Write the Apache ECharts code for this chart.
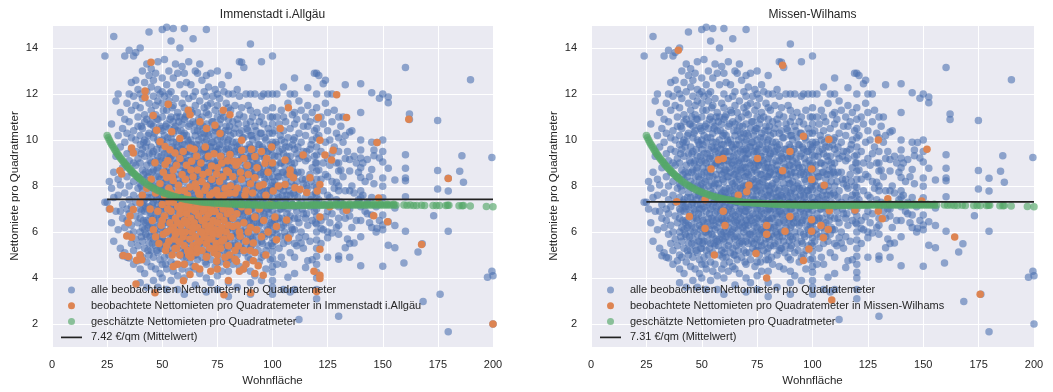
<!DOCTYPE html>
<html>
<head>
<meta charset="utf-8">
<script src="https://cdn.jsdelivr.net/npm/echarts@6/dist/echarts.min.js"></script>
<style>
html,body{margin:0;padding:0;background:#fff;}
#chart{width:1053px;height:392px;}
</style>
</head>
<body>
<div id="chart"></div>
<script>
// ---------- DATA ----------
const panelTitles = ['Immenstadt i.Allgäu', 'Missen-Wilhams'];
const seriesNames = {
  all: 'alle beobachteten Nettomieten pro Quadratemeter',
  local: ['beobachtete Nettomieten pro Quadratemeter in Immenstadt i.Allgäu',
          'beobachtete Nettomieten pro Quadratemeter in Missen-Wilhams'],
  est: 'geschätzte Nettomieten pro Quadratmeter'
};
const meanValues = [7.42, 7.31];
const meanRange = [25, 200];
const xTickLabels = [0, 25, 50, 75, 100, 125, 150, 175, 200];
const yTickLabels = [2, 4, 6, 8, 10, 12, 14];

// all observed rents: each row = [Wohnfläche, rent values...]
const blueRows = [
  [24, 13.65, 7.3], [25, 7.3], [26, 8.2, 7.0], [27, 10.7, 6.4, 7.9],
  [28, 14.5, 7.5, 8.6, 5.6], [29, 11.7, 6.9, 9.3], [30, 12.0, 8.3, 6.1, 10.2, 7.6],
  [31, 11.2, 8.05, 9.7, 6.9, 5.3], [32, 10.5, 4.97, 7.2, 8.8, 6.6],
  [33, 13.65, 9.9, 7.7, 6.2, 10.9, 5.1], [34, 4.9, 11.6, 8.4, 7.0, 9.4, 6.5, 10.3],
  [35, 13.9, 12.0, 10.8, 9.1, 8.0, 7.4, 5.9, 4.87, 6.8],
  [36, 12.5, 11.3, 9.6, 8.6, 7.1, 6.3, 5.5, 10.1],
  [37, 13.65, 11.9, 10.4, 9.0, 8.2, 7.6, 6.0, 5.2, 4.6],
  [38, 13.8, 11.5, 10.0, 8.9, 7.3, 6.7, 5.7, 9.5, 12.6],
  [39, 12.2, 10.6, 9.2, 8.4, 7.9, 6.4, 5.4, 4.75, 11.0],
  [40, 14.0, 12.0, 11.4, 10.2, 9.8, 9.0, 8.1, 7.5, 7.0, 6.6, 6.0, 5.0, 4.4, 3.8],
  [41, 13.0, 11.8, 10.5, 9.6, 8.7, 7.8, 7.2, 6.2, 5.6, 4.9],
  [42, 12.5, 11.1, 10.0, 9.3, 8.3, 7.4, 6.9, 6.1, 5.3, 4.2, 10.8],
  [43, 13.3, 12.1, 10.9, 9.9, 8.9, 8.0, 7.0, 6.5, 5.8, 4.7, 3.6],
  [44, 14.7, 12.8, 11.6, 10.3, 9.4, 8.6, 7.7, 7.1, 6.3, 5.5, 5.0],
  [45, 13.1, 11.3, 10.7, 9.7, 9.0, 8.2, 7.5, 6.8, 6.0, 5.2, 4.5, 12.3],
  [46, 12.6, 11.9, 10.1, 9.5, 8.7, 7.9, 7.3, 6.6, 5.7, 4.9, 3.9, 10.6],
  [47, 12.9, 11.5, 10.4, 9.1, 8.4, 7.6, 6.9, 6.2, 5.4, 4.4, 11.1],
  [48, 13.4, 12.2, 10.9, 10.0, 9.3, 8.8, 8.0, 7.2, 6.5, 5.9, 5.1, 3.6, 11.7],
  [49, 12.0, 10.6, 9.8, 9.0, 8.3, 7.7, 7.0, 6.3, 5.6, 4.8, 4.2],
  [50, 14.8, 12.7, 11.6, 11.0, 10.4, 9.6, 9.1, 8.5, 8.1, 7.8, 7.4, 7.0, 6.7, 6.2, 5.8, 5.3, 4.6, 4.0, 12.1, 10.0],
  [51, 13.5, 11.9, 10.2, 9.4, 8.6, 7.9, 7.1, 6.4, 5.6, 4.9],
  [52, 14.9, 12.4, 11.3, 10.7, 9.9, 9.0, 8.3, 7.6, 6.9, 6.0, 5.2, 4.4, 3.5],
  [53, 13.0, 11.7, 10.5, 9.6, 8.8, 8.0, 7.3, 6.6, 5.9, 5.0, 12.0],
  [54, 14.3, 12.1, 11.0, 10.1, 9.3, 8.6, 7.8, 7.0, 6.3, 5.5, 4.7, 3.9],
  [55, 14.85, 12.7, 11.5, 10.8, 9.9, 9.2, 8.4, 7.7, 7.1, 6.5, 5.8, 5.1, 4.3, 10.3],
  [56, 13.3, 11.8, 10.6, 9.5, 8.9, 8.1, 7.4, 6.8, 6.1, 5.4, 4.6],
  [57, 12.9, 11.2, 10.4, 9.7, 9.0, 8.3, 7.6, 6.9, 6.2, 5.6, 4.1, 3.5],
  [58, 14.0, 12.4, 11.0, 10.0, 9.3, 8.7, 7.9, 7.2, 6.4, 5.7, 5.0],
  [59, 13.2, 11.6, 10.7, 9.8, 9.1, 8.5, 7.7, 7.0, 6.6, 5.9, 5.2, 4.4],
  [60, 14.85, 12.9, 12.0, 11.4, 10.9, 10.3, 9.8, 9.4, 9.0, 8.6, 8.2, 7.8, 7.5, 7.1, 6.8, 6.4, 6.0, 5.6, 5.1, 4.6, 4.0, 3.3],
  [61, 12.5, 11.1, 10.2, 9.5, 8.7, 7.9, 7.3, 6.5, 5.8, 4.9],
  [62, 13.4, 11.8, 10.6, 9.9, 9.1, 8.4, 7.6, 7.0, 6.2, 5.4, 4.3],
  [63, 12.4, 11.3, 10.0, 9.3, 8.6, 7.8, 7.2, 6.6, 5.9, 5.1],
  [64, 14.4, 11.9, 10.8, 9.7, 8.9, 8.1, 7.4, 6.8, 6.1, 5.3, 4.5],
  [65, 13.0, 12.1, 11.5, 10.7, 10.2, 9.6, 9.1, 8.5, 8.0, 7.6, 7.1, 6.7, 6.2, 5.7, 5.0, 4.4, 3.7],
  [66, 12.9, 11.2, 10.4, 9.4, 8.7, 7.9, 7.3, 6.5, 5.8, 4.8],
  [67, 13.3, 11.7, 10.6, 9.8, 9.0, 8.3, 7.5, 6.9, 6.3, 5.5, 4.2],
  [68, 12.6, 11.0, 10.1, 9.2, 8.6, 7.8, 7.0, 6.4, 5.6, 4.9],
  [69, 12.1, 11.4, 10.3, 9.5, 8.8, 8.0, 7.3, 6.7, 6.0, 5.2],
  [70, 14.8, 12.8, 11.9, 11.2, 10.7, 10.0, 9.6, 9.2, 8.8, 8.4, 8.0, 7.6, 7.2, 6.9, 6.5, 6.1, 5.6, 5.1, 4.6, 4.0, 3.4],
  [71, 12.3, 11.1, 10.2, 9.4, 8.5, 7.7, 7.0, 6.3, 5.5],
  [72, 12.9, 11.6, 10.5, 9.7, 8.9, 8.2, 7.4, 6.6, 5.9, 4.8, 3.8],
  [73, 11.9, 10.8, 9.9, 9.1, 8.3, 7.6, 6.8, 6.0, 5.3],
  [74, 12.2, 11.3, 10.4, 9.5, 8.7, 7.9, 7.1, 6.4, 5.7, 4.5],
  [75, 13.0, 12.0, 11.5, 11.0, 10.5, 10.0, 9.5, 9.1, 8.6, 8.2, 7.8, 7.4, 7.0, 6.6, 6.2, 5.7, 5.2, 4.7, 4.1, 3.5],
  [76, 11.8, 10.7, 9.8, 8.9, 8.1, 7.3, 6.7, 5.9, 5.0],
  [77, 12.4, 11.2, 10.3, 9.3, 8.5, 7.7, 6.9, 6.1, 5.4, 4.3],
  [78, 12.1, 11.0, 10.1, 9.0, 8.3, 7.5, 6.8, 6.0, 5.2],
  [79, 11.6, 10.6, 9.6, 8.8, 8.0, 7.2, 6.5, 5.7, 4.8],
  [80, 12.8, 12.0, 11.4, 10.9, 10.4, 10.0, 9.6, 9.2, 8.8, 8.4, 8.0, 7.6, 7.3, 7.0, 6.6, 6.2, 5.8, 5.3, 4.8, 4.3, 3.8, 3.2],
  [81, 11.3, 10.2, 9.4, 8.6, 7.7, 6.9, 6.2, 5.4],
  [82, 12.0, 10.8, 9.9, 9.0, 8.1, 7.4, 6.6, 5.8, 4.6],
  [83, 11.5, 10.5, 9.5, 8.7, 7.9, 7.1, 6.3, 5.5],
  [84, 12.2, 10.9, 9.7, 8.9, 8.2, 7.5, 6.7, 5.9, 5.0, 3.6],
  [85, 13.4, 11.9, 11.1, 10.3, 9.8, 9.1, 8.5, 7.9, 7.4, 6.9, 6.4, 5.8, 5.2, 4.5],
  [86, 13.38, 11.4, 10.4, 9.3, 8.4, 7.6, 6.8, 6.0, 5.3],
  [87, 13.15, 11.0, 10.1, 9.0, 8.1, 7.3, 6.5, 5.6, 4.4],
  [88, 12.0, 10.7, 9.6, 8.7, 7.8, 7.0, 6.2, 5.4],
  [89, 11.5, 10.4, 9.2, 8.3, 7.5, 6.7, 5.9, 4.9],
  [90, 14.17, 12.0, 11.3, 10.8, 10.2, 9.7, 9.3, 8.9, 8.5, 8.1, 7.7, 7.3, 7.0, 6.6, 6.2, 5.8, 5.3, 4.8, 4.3, 3.8, 3.3],
  [91, 11.0, 10.0, 9.1, 8.2, 7.4, 6.6, 5.7],
  [92, 12.0, 10.6, 9.5, 8.6, 7.7, 6.9, 6.0, 5.1, 4.1],
  [93, 11.2, 10.1, 9.0, 8.0, 7.2, 6.4, 5.5],
  [94, 10.8, 9.8, 8.8, 7.9, 7.1, 6.3, 4.7],
  [95, 13.4, 11.9, 11.0, 10.3, 9.4, 8.6, 7.8, 7.0, 6.4, 5.6, 4.9, 3.9],
  [96, 12.0, 10.7, 9.6, 8.5, 7.6, 6.8, 5.9, 5.0],
  [97, 11.3, 10.0, 9.0, 8.2, 7.3, 6.5, 5.2, 4.4],
  [98, 12.0, 10.5, 9.5, 8.7, 7.8, 7.0, 6.1, 5.4],
  [99, 11.0, 9.8, 8.9, 7.9, 7.1, 6.3, 4.8],
  [100, 13.65, 12.0, 11.4, 11.0, 10.7, 10.3, 9.9, 9.7, 9.35, 9.0, 8.75, 8.4, 8.15, 7.85, 7.5, 7.25, 6.95, 6.6, 6.35, 6.0, 5.75, 5.4, 5.15, 4.85, 4.5, 4.25, 3.9, 3.6, 3.3],
  [101, 10.4, 9.3, 8.2, 7.3, 6.5, 5.6], [102, 12.0, 11.0, 9.8, 8.6, 7.7, 6.8, 5.9, 4.6],
  [103, 10.7, 9.5, 8.4, 7.5, 6.6, 5.3], [104, 11.3, 10.0, 9.0, 8.0, 7.0, 6.2, 4.9],
  [105, 12.3, 11.0, 10.4, 9.4, 8.6, 7.8, 7.1, 6.3, 5.5, 4.6, 3.5],
  [106, 10.8, 9.7, 8.3, 7.4, 6.4, 5.8], [107, 11.6, 10.1, 9.1, 8.0, 7.0, 5.6, 4.04],
  [108, 12.0, 10.5, 9.3, 8.5, 7.6, 6.7, 5.9, 5.1, 3.4], [109, 11.1, 9.8, 8.8, 7.2, 6.1],
  [110, 12.7, 12.0, 11.2, 10.7, 10.1, 9.6, 9.0, 8.5, 8.0, 7.6, 7.1, 6.6, 6.1, 5.5, 4.9, 4.2, 3.5],
  [111, 10.9, 9.4, 8.2, 6.9, 5.4], [112, 11.7, 10.3, 9.2, 7.8, 6.4, 5.75, 2.2],
  [113, 11.3, 9.9, 8.6, 7.3, 6.0, 5.53], [114, 10.6, 9.5, 8.1, 6.8, 5.3],
  [115, 11.0, 10.2, 9.1, 8.3, 7.5, 6.6, 5.8, 4.46], [116, 12.27, 11.5, 10.6, 9.2, 7.9, 6.3, 4.75],
  [117, 10.8, 9.6, 8.5, 7.1, 5.6], [118, 11.2, 10.0, 8.8, 7.6, 6.5, 4.8], [119, 12.9, 10.4, 9.3, 8.0, 6.9],
  [120, 12.9, 12.0, 11.4, 10.9, 10.5, 10.1, 9.7, 9.35, 9.0, 8.65, 8.3, 7.95, 7.6, 7.3, 7.0, 6.7, 6.35, 6.0, 5.65, 5.3, 4.95, 4.6, 4.25, 4.0, 3.5, 3.1],
  [121, 12.8, 10.2, 8.7, 7.4], [122, 11.0, 9.5, 8.3, 6.5, 6.17, 5.5], [123, 12.45, 10.7, 9.0, 7.8, 6.1],
  [124, 12.6, 11.6, 9.9, 8.5, 7.2, 6.67],
  [125, 12.0, 11.2, 10.4, 9.2, 8.4, 7.6, 6.9, 6.0, 5.75, 4.9], [126, 10.0, 8.9, 7.5, 6.4],
  [127, 12.0, 10.8, 9.4, 8.2, 6.8, 5.96], [128, 11.3, 9.7, 7.9], [129, 10.3, 9.0, 8.16, 7.4, 6.2],
  [130, 11.0, 10.1, 9.5, 9.0, 8.65, 8.0, 7.8, 7.1, 6.6, 6.3, 5.9, 4.96, 4.82, 2.34],
  [131, 10.6, 8.7, 7.3], [132, 11.0, 9.9, 8.4, 6.9], [133, 12.4, 10.2, 9.2, 7.8, 6.6, 5.32],
  [134, 9.5, 7.0, 5.7], [135, 10.35, 9.15, 8.65, 7.8, 7.0, 6.7, 5.5, 4.9], [136, 10.4, 8.0, 6.2],
  [137, 9.3, 7.7, 5.53], [138, 9.0, 7.2, 6.5], [139, 8.6, 7.4],
  [140, 12.45, 11.2, 10.0, 9.57, 9.22, 8.8, 8.37, 7.8, 7.5, 7.1, 6.5, 5.8, 4.54],
  [141, 9.0, 7.6], [142, 8.2, 6.9], [143, 9.15, 7.3, 6.8], [144, 8.4, 6.4],
  [145, 12.05, 9.9, 8.72, 7.5, 6.74, 6.2], [146, 9.57, 9.32, 8.1], [147, 7.1, 6.0],
  [147.4, 9.89, 6.17], [148.5, 11.82, 9.22, 6.5],
  [150, 12.0, 10.0, 9.5, 9.04, 8.35, 7.99, 7.49, 6.74, 6.31, 6.1, 4.51],
  [152.5, 11.87, 11.62, 8.77, 6.45, 5.43], [155.5, 8.26, 7.05, 6.28, 5.32], [159.6, 4.65],
  [160.3, 13.15, 9.36, 8.77, 8.35, 8.23, 7.53, 6.03], [162.1, 11.13, 10.89],
  [166, 5.13], [167.9, 5.49], [168.3, 2.98], [173.1, 6.71], [174.9, 10.85, 8.68, 7.87],
  [176, 3.3], [179.7, 8.34, 7.79, 6.03, 1.67], [184.9, 8.64], [185.9, 9.32], [186.6, 8.16],
  [189.8, 12.62], [197.5, 4.04], [199.5, 9.24, 4.3], [200, 4.1, 2.0]
];

// more observed rents in the dense core (areas with half square metres)
const blueCoreRows = [
  [40.5, 9.4, 8.0, 6.9, 5.8, 10.6], [41.5, 8.5, 7.3, 6.5, 9.9], [42.5, 9.7, 8.6, 7.1, 5.9, 6.4],
  [43.5, 10.2, 8.4, 7.5, 6.2, 5.2], [44.5, 9.1, 8.0, 6.7, 5.8, 10.7], [45.5, 9.4, 8.6, 7.2, 6.3, 5.5, 11.0],
  [46.5, 10.3, 9.0, 8.1, 7.0, 6.0], [47.5, 9.6, 8.7, 7.4, 6.6, 5.2, 10.9], [48.5, 9.9, 8.4, 7.6, 6.8, 5.6],
  [49.5, 10.5, 9.3, 8.0, 7.2, 6.1, 5.3], [50.5, 9.8, 8.8, 7.5, 6.5, 5.5, 11.3], [51.5, 10.6, 9.1, 8.2, 7.4, 6.0, 4.6],
  [52.5, 9.4, 8.6, 7.2, 6.4, 5.6, 10.1], [53.5, 10.9, 9.2, 8.4, 7.6, 6.8, 6.1, 5.3], [54.5, 9.7, 8.9, 8.1, 6.6, 5.9, 11.4],
  [55.5, 10.5, 9.6, 8.0, 7.3, 6.3, 5.5], [56.5, 9.9, 9.0, 8.5, 7.1, 6.5, 5.7, 11.0], [57.5, 10.8, 9.4, 8.1, 7.4, 6.6, 5.4],
  [58.5, 9.6, 8.9, 7.6, 6.9, 6.0, 10.4], [59.5, 10.2, 9.3, 8.3, 7.3, 6.5, 5.7, 4.9], [60.5, 11.0, 9.5, 8.7, 7.7, 6.9, 6.2, 5.3],
  [61.5, 10.0, 9.1, 8.4, 7.5, 6.7, 5.9], [62.5, 10.7, 9.5, 8.8, 7.9, 7.1, 6.4, 5.6, 4.7], [63.5, 9.8, 9.0, 8.2, 7.4, 6.9, 6.0, 11.2],
  [64.5, 10.4, 9.3, 8.5, 7.7, 6.5, 5.8, 5.0], [65.5, 9.8, 8.8, 8.2, 7.3, 6.4, 5.4], [66.5, 10.9, 10.0, 9.1, 8.4, 7.6, 6.8, 6.1, 5.2],
  [67.5, 9.5, 8.7, 7.9, 7.1, 6.6, 5.8, 10.3], [68.5, 10.6, 9.6, 8.9, 8.1, 7.4, 6.2, 5.5], [69.5, 9.9, 9.2, 8.4, 7.7, 6.9, 6.3, 4.7],
  [70.5, 10.3, 9.4, 8.6, 7.8, 7.1, 6.4, 5.8, 11.5], [71.5, 9.7, 9.0, 8.1, 7.3, 6.7, 5.9, 5.1], [72.5, 10.8, 9.9, 8.6, 8.0, 7.2, 6.5, 5.6],
  [73.5, 9.4, 8.8, 7.9, 7.4, 6.3, 5.5, 10.2], [74.5, 10.5, 9.7, 9.0, 8.3, 7.6, 6.8, 6.0, 5.2], [75.5, 9.6, 8.9, 8.0, 7.2, 6.5, 5.4],
  [76.5, 10.9, 10.1, 9.3, 8.5, 7.8, 7.0, 6.2, 5.6, 4.7], [77.5, 9.8, 9.1, 8.2, 7.4, 6.6, 5.9], [78.5, 10.4, 9.5, 8.7, 7.9, 7.2, 6.4, 5.5],
  [79.5, 9.9, 9.0, 8.4, 7.6, 6.9, 6.1, 5.1], [80.5, 10.6, 9.3, 8.5, 7.8, 7.0, 6.5, 5.7], [81.5, 9.7, 8.8, 8.0, 7.3, 6.6, 5.9, 4.9],
  [82.5, 10.3, 9.4, 8.5, 7.7, 7.0, 6.2, 5.4], [83.5, 9.9, 9.1, 8.3, 7.5, 6.8, 6.0], [84.5, 10.7, 9.6, 8.7, 7.8, 7.1, 6.4, 5.6],
  [85.5, 9.4, 8.6, 7.6, 6.9, 6.1, 5.3], [86.5, 10.1, 9.2, 8.4, 7.5, 6.7, 5.8], [87.5, 9.6, 8.8, 7.9, 7.2, 6.4, 5.1],
  [88.5, 10.5, 9.3, 8.5, 7.6, 6.9, 6.0], [89.5, 9.8, 8.9, 8.1, 7.3, 6.5, 5.6], [90.5, 10.2, 9.4, 8.6, 7.8, 7.0, 6.3, 5.4],
  [91.5, 9.6, 8.8, 7.9, 7.2, 6.4], [92.5, 10.4, 9.2, 8.4, 7.5, 6.7, 5.8], [93.5, 9.8, 8.9, 8.1, 7.4, 6.6, 5.2],
  [94.5, 10.3, 9.3, 8.5, 7.6, 6.9, 6.0], [95.5, 9.7, 8.8, 7.9, 7.3, 6.5, 5.5], [96.5, 10.1, 9.2, 8.3, 7.5, 6.7, 5.8],
  [97.5, 9.5, 8.6, 7.8, 7.0, 6.2], [98.5, 10.3, 9.1, 8.4, 7.6, 6.8, 5.9], [99.5, 9.6, 8.7, 8.0, 7.3, 6.4, 5.5],
  [101.5, 9.9, 8.9, 8.0, 7.2, 6.1], [102.5, 9.3, 8.4, 7.4, 6.5], [103.5, 10.2, 9.0, 7.9, 7.0, 5.8],
  [104.5, 9.6, 8.6, 7.6, 6.6], [105.5, 9.9, 8.9, 8.0, 7.3, 6.0], [106.5, 9.3, 8.5, 7.6, 6.8],
  [107.5, 9.7, 8.7, 7.8, 6.5], [108.5, 9.0, 8.2, 7.3, 6.2], [109.5, 10.0, 8.6, 7.7],
  [111.5, 9.7, 8.6, 7.5, 6.6], [113.5, 9.3, 8.3, 7.0], [115.5, 9.5, 8.0, 6.8], [117.5, 9.8, 8.2, 7.4], [119.5, 9.0, 7.7, 6.4]
];

// observed rents in Immenstadt i.Allgäu
const orangeLeft = [
  [44.5,7.0],[45.5,6.5],[46,6.1],[47,5.8],[48,6.9],[48.5,5.5],[49.5,6.3],[50,7.2],[50.5,5.9],[51,6.7],
  [51.5,5.2],[52,6.0],[52.5,7.0],[53,5.6],[53.5,6.4],[54,6.9],[54.5,5.0],[55,6.2],[55,7.3],[55.5,5.7],
  [56,6.6],[56.5,5.3],[57,7.1],[57,6.0],[57.5,5.6],[58,6.8],[58,5.0],[58.5,6.3],[59,7.2],[59.5,5.8],
  [60,6.5],[60,5.4],[60,7.0],[60.5,6.0],[61,6.8],[61.5,5.2],[62,6.3],[62,7.2],[62.5,5.7],[63,6.6],
  [63,4.9],[63.5,6.0],[64,7.0],[64,5.4],[64.5,6.4],[65,5.8],[65,6.9],[65,7.3],[65.5,5.1],[66,6.2],
  [66.5,6.7],[67,5.6],[67,7.1],[67.5,6.0],[68,6.5],[68,5.2],[68.5,6.9],[69,5.8],[69.5,6.3],[70,7.2],
  [70,6.6],[70,5.5],[70,4.9],[70.5,6.0],[71,6.8],[71.5,5.3],[72,6.3],[72,7.0],[72.5,5.7],[73,6.5],
  [73.5,5.1],[74,6.1],[74,6.9],[74.5,5.5],[75,6.4],[75,7.2],[75,5.0],[75.5,5.9],[76,6.7],[76.5,5.3],
  [77,6.2],[77.5,7.0],[78,5.7],[78,6.5],[78.5,4.9],[79,6.0],[79.5,6.8],[80,5.4],[80,6.3],[80,7.1],
  [80.5,5.0],[81,5.8],[82,6.6],[82,6.24],[83,5.2],[83,4.82],[83.8,6.8],[84.5,5.39],[85,6.0],[85.3,5.82],
  [86,7.1],[86.8,4.4],[87,6.4],[88,5.6],[89,6.9],[90,5.2],[90,6.2],[91.3,5.53],[91.3,4.75],[92,6.66],
  [92,5.11],[92.8,6.1],[93.5,4.54],[94,7.0],[95,5.8],[95.8,4.12],[96,6.5],[97,5.0],[98,6.0],[99,7.2],
  [101.1,6.66],[101.8,6.24],[101.8,5.67],[106.4,6.52],[107.2,5.74],
  [50,6.5],[52,5.4],[53,7.3],[54,6.1],[56,5.9],[57,6.4],[58,7.0],[59,6.0],[61,6.4],[62,5.0],
  [63,7.0],[64,6.2],[66,5.5],[66,7.2],[68,6.0],[69,7.0],[71,6.1],[71,5.7],[73,6.9],[73,5.9],
  [74,5.3],[76,6.0],[77,5.6],[79,7.2],[81,6.9],[84,6.3],[87,5.2],[89,6.0],
  [38.4,4.77],[32.3,4.98],[34.6,4.94],[39.9,5.0],[40.7,4.8],[36.1,5.78],[35.4,6.7],[34.6,6.41],[36.9,6.98],[39.9,7.27],
  [55.8,5.29],[58,5.57],[62.6,5.15],[65.6,5.29],[70.1,4.94],[74.7,4.73],[79.2,4.59],[83.7,4.73],[62.6,4.16],[59.6,3.88],
  [46.7,3.36],[78,3.28],[90.1,3.36],[38.1,3.74],[57,4.6],[67,4.4],[72,4.3],[88,4.6],[92,4.2],[26.3,7.0],[33.9,5.83],
  [41,7.6],[43,7.9],[45,8.3],[47,7.7],[49,8.1],[51,7.6],[51.3,8.94],[46.7,9.01],[52,8.38],[53,7.9],
  [55,8.24],[55,8.7],[56,7.6],[57.3,8.03],[58,9.2],[59,8.5],[60,7.8],[61,8.9],[62.6,7.96],[62.6,9.65],
  [63.3,9.08],[64,8.4],[65.6,7.89],[65.6,9.3],[66,8.7],[67,7.6],[68,8.2],[69.4,7.82],[70.9,9.3],[71,8.6],
  [72.4,8.87],[73,7.7],[74.7,8.52],[74.7,7.82],[76,8.2],[77,9.0],[78,7.6],[79.2,8.66],[80.7,9.37],[82.2,9.08],
  [81,8.0],[83,7.7],[84.5,9.06],[86,9.56],[86,9.99],[86,8.3],[88,7.8],[89,8.5],[92,9.28],[92,8.36],
  [95.8,8.07],[96.6,8.99],[97.3,9.2],[99.6,9.7],[100.3,7.79],[102.7,8.0],[105.7,8.07],[105.7,9.13],[108,8.7],[108,8.5],
  [109.5,8.36],[110.2,7.93],[112.5,7.86],[115.5,7.72],[113.9,9.35],[117,8.36],[121.5,8.07],[120.3,7.79],[123.8,9.35],[126.8,9.13],
  [127.5,9.56],[121.5,9.99],[49,9.93],[51.3,9.72],[53.5,9.58],[55.8,9.44],[36.1,9.65],[36.9,9.44],[30.8,8.66],[31.6,8.52],
  [58,10.07],[103.5,10.5],[126,7.1],[133.6,6.95],[121.5,6.66],[121.5,5.25],[121.5,4.12],[121.5,3.98],[120,3.42],[118.8,4.3],
  [44.9,13.38],[42.2,12.13],[42.2,11.85],[52.7,11.56],[45.9,11.07],[61.8,11.3],[62.6,11.1],[67.1,10.79],[70.1,10.5],[47.5,10.43],
  [54.3,10.36],[73.9,10.64],[76.2,10.28],[80.7,11.1],[77.7,11.3],[107.2,11.4],[120.8,10.98],[133.6,10.98],[129.1,11.97],[161.8,10.9],
  [147.4,9.89],[179.7,8.33],[148.1,7.48],[145.9,6.71],[152.2,6.45],[167.6,5.46],[200,2.0],
  [50.5,8.6],[52.5,9.1],[54,7.7],[54.5,8.4],[56.5,8.9],[57.5,7.8],[59.5,9.5],[60.5,8.3],[61.5,7.6],[63,8.7],
  [64.5,9.6],[65,8.1],[66.5,7.7],[67.5,9.0],[68.5,8.5],[69.5,9.7],[70,8.0],[71.5,7.6],[72.5,8.3],[73.5,9.4],
  [75,8.8],[75.5,7.6],[76.5,9.3],[77.5,8.4],[78.5,7.9],[79.5,9.1],[80,8.6],[80.5,7.7],[82,8.4],[83.5,8.9],
  [84,7.9],[85.5,8.6],[87,9.2],[87.5,7.6],[88.5,8.9],[90,8.1],[90.5,9.6],[91,7.7],[93,8.8],[94,8.0],
  [95,9.5],[97,7.6],[98,8.6],[100,9.0],[60,4.6],[65,4.5],[75,4.4],[80,3.9],[85,4.3],[55,4.5]
];

// observed rents in Missen-Wilhams
const orangeRight = [
  [39.4,13.9],[86.5,13.25],[95.9,10.16],[107.4,10.02],[129.7,10.0],[151.7,9.6],[89.8,9.5],[57.5,9.14],
  [59.7,9.2],[75.2,9.2],[54.2,8.74],[86.5,8.67],[99.6,8.74],[99.6,8.28],[105.3,8.03],[71.3,8.03],
  [70.3,7.75],[66.5,7.6],[38.7,7.32],[51.5,7.4],[44.4,6.68],[59.7,6.9],[51.5,6.15],[60.5,6.28],
  [89.8,6.68],[99.6,6.54],[103.8,6.28],[107.1,6.11],[79.3,6.28],[79.3,5.9],[87.6,6.04],[99.6,6.04],
  [104.9,5.75],[107.6,6.93],[119.2,6.96],[129.7,6.9],[131.5,6.58],[134,7.45],[149.3,7.35],[164.2,5.79],
  [175.7,3.3],[98.4,5.26],[95.9,4.76],[74.5,5.07],[55.7,5.0],[79.3,4.0],[108.7,3.05]
];

// estimated rents: each row = [Wohnfläche, estimated values...]
const greenRows = [
  [25,10.2],[25.5,10.1],[26,10.0],[26.5,9.9],[27,9.82],[27.5,9.74],[28,9.66],[28.5,9.58],[29,9.5],[29.5,9.43],
  [30,9.36],[30.5,9.29],[31,9.22],[31.5,9.16],[32,9.1],[32.5,9.04],[33,8.98],[33.5,8.92],[34,8.87],[34.5,8.81],
  [35,8.76],[35.5,8.71],[36,8.66],[36.5,8.61],[37,8.56],[37.5,8.51],[38,8.47],[38.5,8.42],[39,8.38],[39.5,8.34],
  [40,8.3],[41,8.22],[42,8.15],[43,8.08],[44,8.02],[45,7.96],[46,7.91],[47,7.86],[48,7.81],[49,7.77],
  [50,7.73],[51,7.69],[52,7.66],[53,7.62],[54,7.59],[55,7.56],[56,7.53],[57,7.5],[58,7.48],[59,7.46],
  [60,7.44],[61,7.42],[62,7.4],[63,7.38],[64,7.37],[65,7.35],[66,7.34],[67,7.32],[68,7.31],[69,7.3],
  [70,7.29],[71,7.28],[72,7.27],[73,7.26],[74,7.26],[75,7.25],[76,7.25],[77,7.24],[78,7.24],[79,7.23],
  [80,7.23],[81,7.22],[82,7.22],[83,7.21,7.25],[84,7.21],[85,7.2],[86,7.2,7.24],[87,7.2],[88,7.19],[89,7.19,7.23],
  [90,7.19],[91,7.18],[92,7.18,7.22],[93,7.18],[94,7.17],[95,7.17,7.21],[96,7.17],[97,7.17],[98,7.17,7.2],[99,7.16],
  [100,7.16,7.21],[101,7.16],[102,7.16],[103,7.16,7.2],[104,7.16],[105,7.16],[106,7.16,7.2],[107,7.16],[108,7.16],[109,7.16,7.2],
  [110,7.16],[111,7.16],[112,7.16,7.2],[113,7.16],[114,7.16],[115,7.16,7.2],[116,7.17],[117,7.17],[118,7.17,7.21],[119,7.17],
  [120,7.17,7.21],[121,7.17],[122,7.17],[123,7.17,7.21],[124,7.17],[125,7.17],[126,7.18,7.21],[127,7.18],[128,7.18],[129,7.18,7.22],
  [130,7.18],[131,7.18],[132,7.18,7.22],[133,7.18],[134,7.18],[135,7.18,7.22],[136,7.18],[137,7.18],[138,7.18,7.22],[139,7.18],
  [140,7.18,7.22],[141,7.18],[142,7.18],[143,7.18,7.22],[144,7.18],[145,7.18],[146,7.18,7.22],[147,7.18],[148,7.18],[149,7.18,7.22],
  [150,7.18],[151,7.18],[152,7.18,7.21],[153,7.18],[154,7.18],[155,7.18,7.21],[156,7.17],
  [159.6,7.18],[161,7.17],[162.5,7.18],[164,7.16],[165.4,7.16],[167.6,7.17],[169,7.16],[172.8,7.16],[174.3,7.16],[175.7,7.16],
  [178.6,7.16],[179.4,7.17],[180,7.17],[184.6,7.14],[186,7.14],[186.6,7.15],[189.7,7.13],[197,7.11],[200,7.1]
];

// ---------- BUILD ----------
const flatRows = rows => rows.flatMap(r => r.slice(1).map(v => [r[0], v]));
const blueData = flatRows(blueRows).concat(flatRows(blueCoreRows));
const greenData = flatRows(greenRows);
const orangeData = [orangeLeft, orangeRight];

const FONT = '"Liberation Sans", Arial, sans-serif';
const TXT = '#262626';
const grids = [
  { left: 52, top: 25, width: 441, height: 328 },
  { left: 591, top: 25, width: 443, height: 328 }
];
const meanName = i => meanValues[i].toFixed(2) + ' €/qm (Mittelwert)';

const chart = echarts.init(document.getElementById('chart'), null, { renderer: 'canvas' });

const xAxes = grids.map((g, i) => ({
  type: 'value', gridIndex: i, min: xTickLabels[0], max: xTickLabels[xTickLabels.length - 1],
  interval: xTickLabels[1] - xTickLabels[0],
  name: 'Wohnfläche', nameLocation: 'middle', nameGap: 23,
  nameTextStyle: { fontSize: 11.5, color: TXT, fontFamily: FONT },
  axisLine: { show: false }, axisTick: { show: false },
  axisLabel: { fontSize: 11, color: TXT, fontFamily: FONT, margin: 12 },
  splitLine: { show: true, lineStyle: { color: '#ffffff', width: 1 } }
}));
const yAxes = grids.map((g, i) => ({
  type: 'value', gridIndex: i, min: 1, max: 15, splitNumber: 7,
  name: 'Nettomiete pro Quadratmeter', nameLocation: 'middle', nameGap: 31,
  nameTextStyle: { fontSize: 11.5, color: TXT, fontFamily: FONT },
  axisLine: { show: false }, axisTick: { show: false },
  axisLabel: { fontSize: 11, color: TXT, fontFamily: FONT, margin: 14,
    formatter: v => (yTickLabels.indexOf(Math.round(v * 1000) / 1000) >= 0 ? String(v) : '') },
  splitLine: { show: true, lineStyle: { color: '#ffffff', width: 1 } }
}));

const series = [];
grids.forEach((g, i) => {
  series.push({
    name: seriesNames.all, type: 'scatter', xAxisIndex: i, yAxisIndex: i,
    data: blueData, symbolSize: 7.5, large: false,
    itemStyle: { color: '#4C72B0', opacity: 0.6 }, emphasis: { disabled: true }, z: 2
  });
  series.push({
    name: seriesNames.local[i], type: 'scatter', xAxisIndex: i, yAxisIndex: i,
    data: orangeData[i], symbolSize: 7.5,
    itemStyle: { color: '#DD8452', opacity: 1 }, emphasis: { disabled: true }, z: 3
  });
  series.push({
    name: seriesNames.est, type: 'scatter', xAxisIndex: i, yAxisIndex: i,
    data: greenData, symbolSize: 7.5,
    itemStyle: { color: '#55A868', opacity: 0.65 }, emphasis: { disabled: true }, z: 4
  });
  series.push({
    name: meanName(i), type: 'line', xAxisIndex: i, yAxisIndex: i,
    data: meanRange.map(x => [x, meanValues[i]]), symbol: 'none',
    lineStyle: { color: '#222222', width: 1.8 }, itemStyle: { color: '#222222' },
    emphasis: { disabled: true }, z: 5
  });
});

const legends = grids.map((g, i) => ({
  orient: 'vertical', left: g.left + 4, top: 279,
  itemWidth: 21, itemHeight: 7, itemGap: 3.8, selectedMode: false,
  padding: 5,
  textStyle: { fontSize: 11, color: TXT, fontFamily: FONT, lineHeight: 12, padding: [0, 0, 0, 4] },
  data: [seriesNames.all, seriesNames.local[i], seriesNames.est,
    { name: meanName(i), icon: 'path://M0,0 L42,0 L42,3.4 L0,3.4 Z' }]
}));

chart.setOption({
  animation: false,
  backgroundColor: '#ffffff',
  textStyle: { fontFamily: FONT },
  grid: grids.map(g => Object.assign({ show: true, backgroundColor: '#EAEAF2', borderWidth: 0 }, g)),
  xAxis: xAxes,
  yAxis: yAxes,
  legend: legends,
  graphic: grids.map((g, i) => ({
    type: 'text', x: g.left + g.width / 2, y: 14.5, silent: true,
    style: { text: panelTitles[i], fontSize: 12, fontFamily: FONT, fill: TXT,
      align: 'center', verticalAlign: 'middle', textAlign: 'center', textVerticalAlign: 'middle' }
  })),
  series: series
});
</script>
</body>
</html>
